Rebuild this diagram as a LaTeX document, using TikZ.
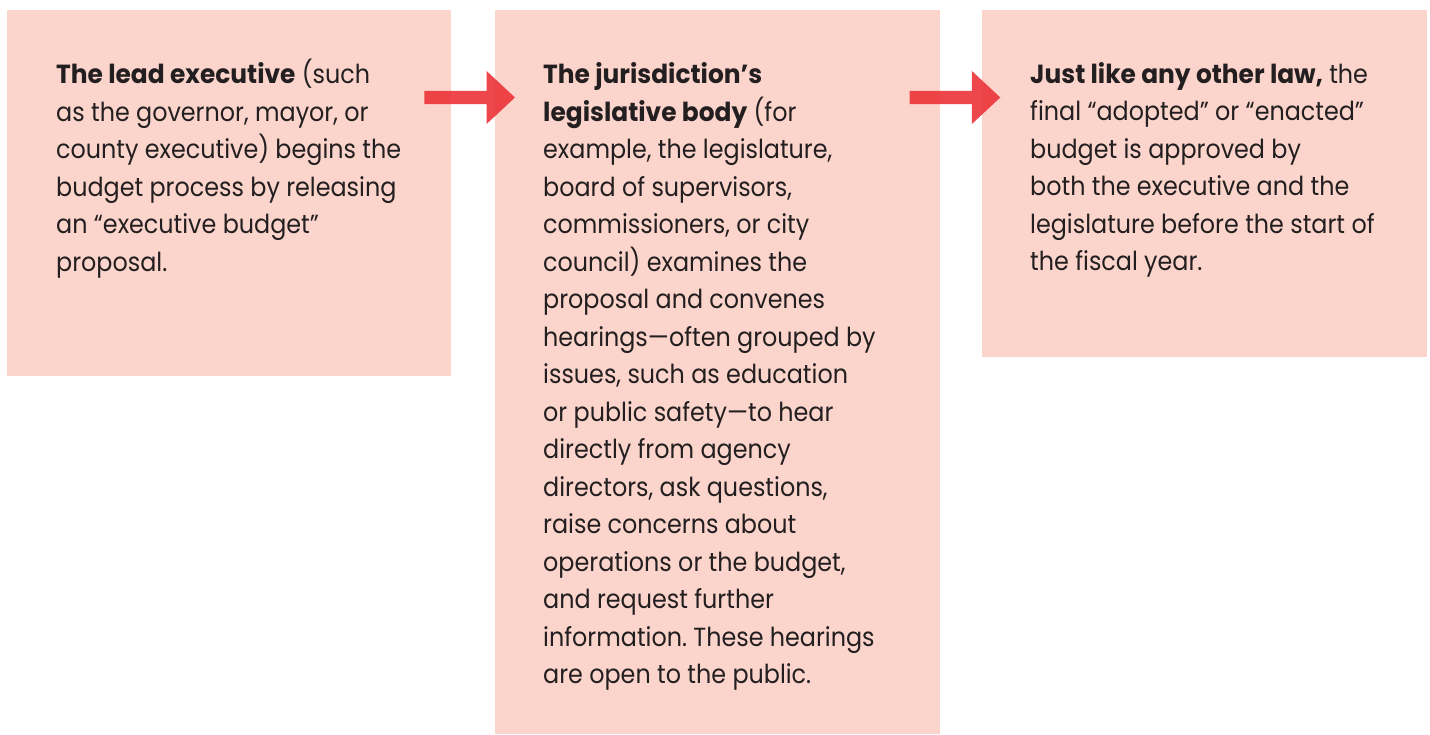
\documentclass[tikz,border=0pt]{standalone}
\usepackage{fontspec}
\setmainfont{Poppins}[FakeStretch=0.91, BoldFeatures={FakeStretch=0.95}]
\frenchspacing
\usetikzlibrary{calc}
\definecolor{boxpink}{HTML}{FBD5CB}
\definecolor{flowred}{HTML}{EC3338}
\definecolor{ink}{HTML}{231F20}
\tikzset{
  stage/.style={fill=boxpink, draw=none, inner sep=0pt, anchor=north west},
  blurb/.style={anchor=north west, inner sep=0pt, align=left, text=ink,
    font=\fontsize{26.2pt}{37.5pt}\selectfont},
  flow/.style={fill=flowred, fill opacity=0.9, draw=none}
}
\newcommand{\firstline}{\rule{0pt}{24pt}}
\begin{document}
\begin{tikzpicture}[x=1pt,y=1pt]
  \useasboundingbox (0,0) rectangle (1430,734);
  \fill[white] (0,0) rectangle (1430,734);

  % the three stages
  \node[stage, minimum width=444pt, minimum height=366pt] (b1) at (7,724) {};
  \node[stage, minimum width=445pt, minimum height=724pt] (b2) at (495,724) {};
  \node[stage, minimum width=445pt, minimum height=347.3pt] (b3) at (982,724) {};

  \node[blurb] (t1) at ([xshift=49pt,yshift=-49.3pt]b1.north west)
    {\firstline\textbf{The lead executive} (such\\
     as the governor, mayor, or\\
     county executive) begins the\\
     budget process by releasing\\
     an “executive budget”\\
     proposal.};

  \node[blurb] (t2) at ([xshift=48pt,yshift=-49.3pt]b2.north west)
    {\firstline\textbf{The jurisdiction’s}\\
     \textbf{legislative body} (for\\
     example, the legislature,\\
     board of supervisors,\\
     commissioners, or city\\
     council) examines the\\
     proposal and convenes\\
     hearings—often grouped by\\
     issues, such as education\\
     or public safety—to hear\\
     directly from agency\\
     directors, ask questions,\\
     raise concerns about\\
     operations or the budget,\\
     and request further\\
     information. These hearings\\
     are open to the public.};

  \node[blurb] (t3) at ([xshift=48pt,yshift=-49.3pt]b3.north west)
    {\firstline\textbf{Just like any other law,} the\\
     final “adopted” or “enacted”\\
     budget is approved by\\
     both the executive and the\\
     legislature before the start of\\
     the fiscal year.};

  % block arrows between the stages
  \coordinate (s1) at ([xshift=-27pt,yshift=-87.5pt]b1.north east);
  \coordinate (e1) at ([xshift=20pt,yshift=-87.5pt]b2.north west);
  \coordinate (s2) at ([xshift=-30.7pt,yshift=-87.5pt]b2.north east);
  \coordinate (e2) at ([xshift=18.3pt,yshift=-87.5pt]b3.north west);

  \fill[flow] ([yshift=6.65pt]s1) -- ([xshift=-28.4pt,yshift=6.65pt]e1)
    -- ([xshift=-28.4pt,yshift=26.5pt]e1) -- (e1)
    -- ([xshift=-28.4pt,yshift=-26.5pt]e1) -- ([xshift=-28.4pt,yshift=-6.65pt]e1)
    -- ([yshift=-6.65pt]s1) -- cycle;
  \fill[flow] ([yshift=6.65pt]s2) -- ([xshift=-28.4pt,yshift=6.65pt]e2)
    -- ([xshift=-28.4pt,yshift=26.5pt]e2) -- (e2)
    -- ([xshift=-28.4pt,yshift=-26.5pt]e2) -- ([xshift=-28.4pt,yshift=-6.65pt]e2)
    -- ([yshift=-6.65pt]s2) -- cycle;
\end{tikzpicture}
\end{document}
